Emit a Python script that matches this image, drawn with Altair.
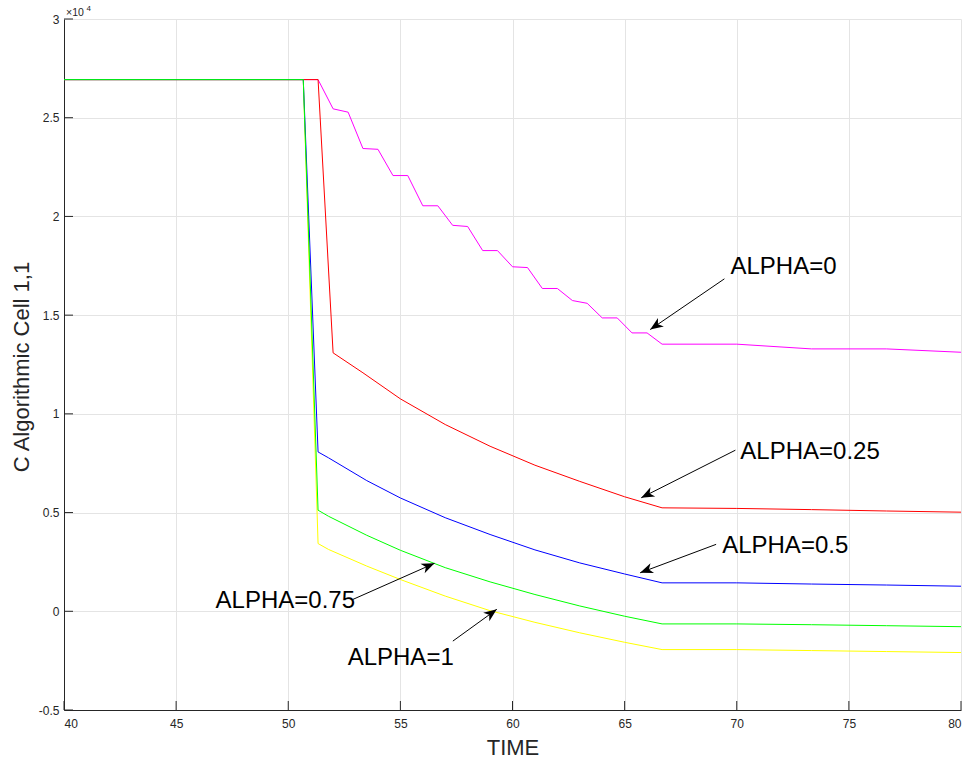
import math
import altair as alt
import pandas as pd

# ---------------- data ----------------
t_a0 = [40, 51.33, 52.0, 52.67, 53.33, 54.0, 54.67, 55.33, 56.0, 56.67, 57.33, 58.0,
        58.67, 59.33, 60.0, 60.67, 61.33, 62.0, 62.67, 63.33, 64.0, 64.67, 65.33, 66.0,
        66.67, 70.0, 73.33, 76.67, 80.0]
v_a0 = [26930, 26930, 25450, 25280, 23440, 23400, 22070, 22070, 20540, 20540, 19550, 19490,
        18270, 18270, 17450, 17410, 16350, 16350, 15740, 15600, 14860, 14860, 14100, 14100,
        13530, 13530, 13290, 13290, 13120]

t_a025 = [40, 51.33, 52.0, 53.33, 55.0, 57.0, 59.0, 61.0, 63.0, 65.0, 66.67, 70.0, 73.33, 76.67, 80.0]
v_a025 = [26930, 26930, 13090, 12080, 10760, 9460, 8360, 7400, 6580, 5800, 5240, 5210, 5150, 5080, 5020]

t_rest = [40, 50.67, 51.33, 51.8, 53.5, 55.0, 57.0, 59.0, 61.0, 63.0, 65.0, 66.67, 70.0, 73.33, 76.67, 80.0]
v_a05 = [26930, 26930, 8070, 7770, 6620, 5740, 4740, 3890, 3110, 2450, 1890, 1440, 1440, 1380, 1330, 1270]
v_a075 = [26930, 26930, 5120, 4810, 3850, 3090, 2210, 1490, 850, 270, -250, -640, -640, -680, -730, -780]
v_a1 = [26930, 26930, 3430, 3130, 2290, 1610, 770, 30, -560, -1090, -1570, -1940, -1940, -1990, -2040, -2090]

series_names = ["ALPHA=0", "ALPHA=0.25", "ALPHA=1", "ALPHA=0.5", "ALPHA=0.75"]
series_colors = ["#ff00ff", "#ff0000", "#ffff00", "#0000ff", "#00ff00"]
series_t = [t_a0, t_a025, t_rest, t_rest, t_rest]
series_v = [v_a0, v_a025, v_a1, v_a05, v_a075]

# annotations
ann_text = ["ALPHA=0", "ALPHA=0.25", "ALPHA=0.5", "ALPHA=0.75", "ALPHA=1"]
ann_tx = [69.72, 70.16, 69.35, 46.76, 52.65]
ann_ty = [17090, 7690, 2930, 150, -2740]
arr_sx = [69.45, 69.94, 69.08, 52.88, 57.34]
arr_sy = [16840, 8160, 3390, 600, -1510]
arr_hx = [66.14, 65.74, 65.69, 56.52, 59.30]
arr_hy = [14270, 5750, 1950, 2430, 100]

x_ticks = [40, 45, 50, 55, 60, 65, 70, 75, 80]
y_ticks = [-5000, 0, 5000, 10000, 15000, 20000, 25000, 30000]

# ---------------- layout ----------------
W, H = 897, 691
X0, X1 = 40, 80
Y0, Y1 = -5000, 30000
FONT = "Liberation Sans"
AX = "#262626"

xscale = alt.Scale(domain=[X0, X1], nice=False, zero=False)
yscale = alt.Scale(domain=[Y0, Y1], nice=False, zero=False)
xaxis = alt.Axis(title="TIME", values=x_ticks, format="d", grid=True, gridColor="#e4e4e4",
                 domainColor=AX, tickSize=0, labelPadding=8, labelFont=FONT, labelFontSize=12,
                 labelColor=AX, titleFont=FONT, titleFontSize=22, titleFontWeight="normal",
                 titleColor=AX, titleBaseline="alphabetic", titleY=44)
yaxis = alt.Axis(title="C Algorithmic Cell 1,1", values=y_ticks,
                 labelExpr="datum.value / 10000 + ''", grid=True, gridColor="#e4e4e4",
                 domainColor=AX, tickSize=0, labelPadding=5, labelFont=FONT, labelFontSize=12,
                 labelColor=AX, titleFont=FONT, titleFontSize=22, titleFontWeight="normal",
                 titleColor=AX, titleBaseline="alphabetic", titleX=-36, titleY=H / 2 + 2)


def X(field):
    return alt.X(field, type="quantitative", scale=xscale, axis=xaxis)


def Y(field):
    return alt.Y(field, type="quantitative", scale=yscale, axis=yaxis)


layers = []

# inner tick marks (MATLAB style)
xt = pd.DataFrame({"x": x_ticks})
yt = pd.DataFrame({"y": y_ticks})
layers.append(alt.Chart(xt).mark_rule(color=AX, strokeWidth=1).encode(
    x=X("x"), y=alt.value(H), y2=alt.value(H - 9)))
layers.append(alt.Chart(yt).mark_rule(color=AX, strokeWidth=1).encode(
    y=Y("y"), x=alt.value(0), x2=alt.value(9)))

for name, col, ts, vs in zip(series_names, series_colors, series_t, series_v):
    df = pd.DataFrame({"x": ts, "y": vs, "s": name})
    layers.append(alt.Chart(df).mark_line(color=col, strokeWidth=1, clip=True).encode(
        x=X("x"), y=Y("y"), order=alt.Order("x:Q")))

# arrows
px_x = W / (X1 - X0)
px_y = H / (Y1 - Y0)
angles = []
for sx, sy, hx, hy in zip(arr_sx, arr_sy, arr_hx, arr_hy):
    dx = (hx - sx) * px_x
    dy = -(hy - sy) * px_y
    angles.append(math.degrees(math.atan2(dx, -dy)) % 360)

arr = pd.DataFrame({"x": arr_sx, "y": arr_sy, "x2": arr_hx, "y2": arr_hy,
                    "hx": arr_hx, "hy": arr_hy, "ang": angles})
layers.append(alt.Chart(arr).mark_rule(color="black", strokeWidth=1).encode(
    x=X("x"), y=Y("y"), x2="x2:Q", y2="y2:Q"))
head = "M0,0 L0.4,1 L0,0.72 L-0.4,1 Z"
layers.append(alt.Chart(arr).mark_point(shape=head, filled=True, color="black", opacity=1,
                                        size=676, strokeWidth=0).encode(
    x=X("hx"), y=Y("hy"), angle=alt.Angle("ang:Q", scale=None)))

ann = pd.DataFrame({"x": ann_tx, "y": ann_ty, "t": ann_text})
layers.append(alt.Chart(ann).mark_text(font=FONT, fontSize=24, align="left",
                                       baseline="alphabetic", color="black").encode(
    x=X("x"), y=Y("y"), text="t:N"))

# exponent label
exp_df = pd.DataFrame({"x": [X0], "y": [Y1]})
layers.append(alt.Chart(exp_df).mark_text(font=FONT, fontSize=10.5, align="left",
                                          baseline="alphabetic", color=AX, dx=2, dy=-3).encode(
    x=X("x"), y=Y("y"), text=alt.value("×10")))
layers.append(alt.Chart(exp_df).mark_text(font=FONT, fontSize=8, align="left",
                                          baseline="alphabetic", color=AX, dx=22.5, dy=-8).encode(
    x=X("x"), y=Y("y"), text=alt.value("4")))

chart = alt.layer(*layers).properties(
    width=W, height=H,
    padding={"left": 64, "top": 19, "right": 4, "bottom": 50},
    autosize=alt.AutoSizeParams(type="none"),
    background="white",
).configure_view(stroke=None)

chart.save("out.html", embed_options={"renderer": "svg", "actions": False})
